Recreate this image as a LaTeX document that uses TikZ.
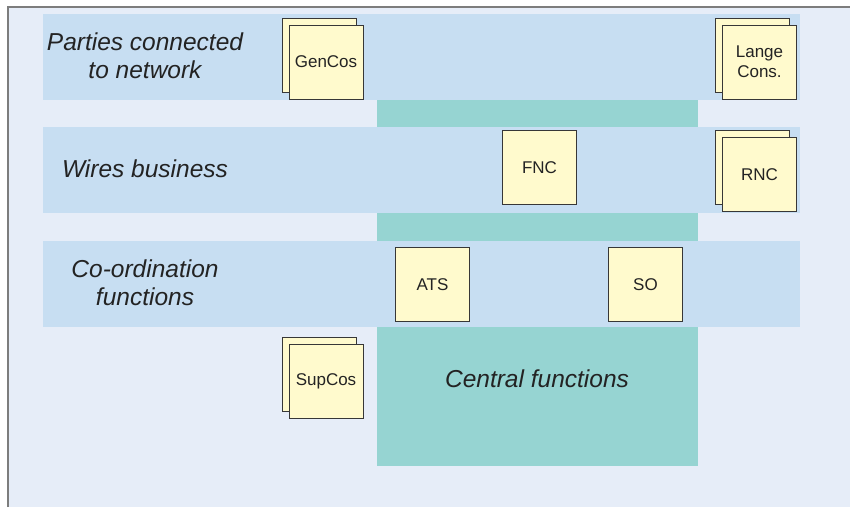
\documentclass[tikz,border=0pt]{standalone}
\usepackage{fontspec}
\setmainfont{Liberation Sans}
\definecolor{bgblue}{RGB}{230,237,248}
\definecolor{bandblue}{RGB}{199,222,242}
\definecolor{teal2}{RGB}{150,212,210}
\definecolor{boxyellow}{RGB}{255,250,205}
\definecolor{boxedge}{RGB}{55,55,55}
\definecolor{txt}{RGB}{35,35,35}
\definecolor{frame}{RGB}{125,125,125}
\tikzset{
  card/.style={rectangle, draw=boxedge, fill=boxyellow, line width=0.9pt,
    minimum width=74pt, minimum height=74pt, inner sep=0pt,
    font=\fontsize{17}{20}\selectfont, text=txt, align=center},
  bandlabel/.style={font=\fontsize{24.5}{28}\selectfont\itshape, text=txt, align=center, inner sep=0pt},
  band/.style={fill=bandblue},
  core/.style={fill=teal2}
}
\begin{document}
\begin{tikzpicture}[x=1pt,y=-1pt]
\useasboundingbox (0,0) rectangle (850,507);
\fill[white] (0,0) rectangle (850,507);
\fill[bgblue] (8,7) rectangle (850,507);
\draw[frame, line width=1.6pt] (8,507) -- (8,7) -- (850,7);
% central column
\fill[core] (377,100) rectangle (698,466);
% bands
\fill[band] (43,14) rectangle (800,100);
\fill[band] (43,127) rectangle (800,213);
\fill[band] (43,241) rectangle (800,327);
% band labels
\node[bandlabel] (lparties) at (145,56) {Parties connected\\to network};
\node[bandlabel] (lwires) at (145,169) {Wires business};
\node[bandlabel] (lcoord) at (145,283) {Co-ordination\\functions};
\node[bandlabel] (lcentral) at (537,379) {Central functions};
% cards
\node[card] (gencosB) at (319.5,55) {};
\node[card] (gencos) at (326,62) {GenCos};
\node[card] (langeB) at (752.5,55) {};
\node[card] (lange) at (759.5,62) {Lange\\Cons.};
\node[card] (rncB) at (752.5,167.5) {};
\node[card] (rnc) at (759.5,174.5) {RNC};
\node[card] (fnc) at (539.5,167.5) {FNC};
\node[card] (ats) at (432.5,284.5) {ATS};
\node[card] (so) at (645.5,284.5) {SO};
\node[card] (supcosB) at (319.5,374.5) {};
\node[card] (supcos) at (326,381.5) {SupCos};
\end{tikzpicture}
\end{document}
